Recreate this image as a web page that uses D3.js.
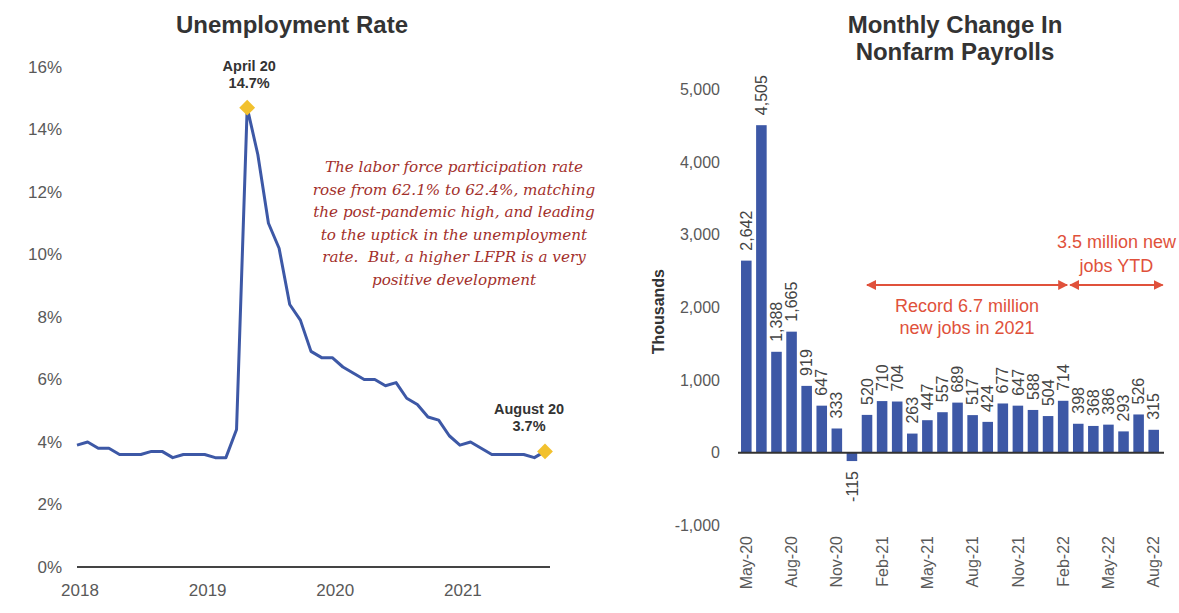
<!DOCTYPE html>
<html>
<head>
<meta charset="utf-8">
<script src="https://cdn.jsdelivr.net/npm/d3@7"></script>
<style>
  html, body { margin: 0; padding: 0; background: #fff; }
  svg { display: block; }
  .sans { font-family: "Liberation Sans", Arial, sans-serif; }
</style>
</head>
<body>
<svg id="chart" width="1179" height="613"></svg>
<script>
// ---- Unemployment rate, monthly (Dec 2018 .. Aug 2022) ----
const rateValues = [3.9, 4.0, 3.8, 3.8, 3.6, 3.6, 3.6, 3.7, 3.7, 3.5, 3.6, 3.6, 3.6, 3.5, 3.5, 4.4,
  14.7, 13.2, 11.0, 10.2, 8.4, 7.9, 6.9, 6.7, 6.7, 6.4, 6.2, 6.0, 6.0, 5.8, 5.9, 5.4, 5.2, 4.8,
  4.7, 4.2, 3.9, 4.0, 3.8, 3.6, 3.6, 3.6, 3.6, 3.5, 3.7];
const rateYearTicks = [0, 12, 24, 36];
const rateYearLabels = ["2018", "2019", "2020", "2021"];
const rateYTicks = [0, 2, 4, 6, 8, 10, 12, 14, 16];
const rateCallouts = [
  { index: 16, lines: ["April 20", "14.7%"], dx: 2 },
  { index: 44, lines: ["August 20", "3.7%"], dx: -16 }
];
const rateNote = ["The labor force participation rate", "rose from 62.1% to 62.4%, matching",
  "the post-pandemic high, and leading", "to the uptick in the unemployment",
  "rate.  But, a higher LFPR is a very", "positive development"];

// ---- Monthly change in nonfarm payrolls (thousands) ----
const payrollMonths = ["May-20", "Jun-20", "Jul-20", "Aug-20", "Sep-20", "Oct-20", "Nov-20", "Dec-20",
  "Jan-21", "Feb-21", "Mar-21", "Apr-21", "May-21", "Jun-21", "Jul-21", "Aug-21", "Sep-21", "Oct-21",
  "Nov-21", "Dec-21", "Jan-22", "Feb-22", "Mar-22", "Apr-22", "May-22", "Jun-22", "Jul-22", "Aug-22"];
const payrollValues = [2642, 4505, 1388, 1665, 919, 647, 333, -115, 520, 710, 704, 263, 447, 557, 689,
  517, 424, 677, 647, 588, 504, 714, 398, 368, 386, 293, 526, 315];
const payrollYTicks = [-1000, 0, 1000, 2000, 3000, 4000, 5000];
const payrollSpans = [
  { from: "Jan-21", to: "Feb-22", lines: ["Record 6.7 million", "new jobs in 2021"], below: true },
  { from: "Feb-22", to: "Aug-22", lines: ["3.5 million new", "jobs YTD"], below: false }
];

const svg = d3.select("#chart");
const blue = "#3d58a6";
const gold = "#f2c12e";
const axisText = "#595959";
const fmt = v => d3.format(",")(v).replace("\u2212", "-");

// ================= Left panel: unemployment line =================
const xL = d3.scaleLinear().domain([0, rateValues.length - 1]).range([77, 545]);
const yL = d3.scaleLinear().domain([0, 16]).range([567, 67]);

const left = svg.append("g");

left.append("text").attr("class", "sans")
  .attr("x", 292).attr("y", 33).attr("text-anchor", "middle")
  .attr("font-size", 24).attr("font-weight", "bold").attr("fill", "#333")
  .text("Unemployment Rate");

left.selectAll(".ytick").data(rateYTicks).join("text")
  .attr("class", "sans")
  .attr("x", 62).attr("y", d => yL(d)).attr("dy", "0.35em")
  .attr("text-anchor", "end").attr("font-size", 17).attr("fill", axisText)
  .text(d => d + "%");

left.append("line")
  .attr("x1", xL(0)).attr("x2", xL(rateValues.length - 1) + 5)
  .attr("y1", yL(0)).attr("y2", yL(0))
  .attr("stroke", "#444").attr("stroke-width", 2);

left.selectAll(".xtick").data(rateYearTicks).join("text")
  .attr("class", "sans")
  .attr("x", d => xL(d) + 3).attr("y", 596)
  .attr("text-anchor", "middle").attr("font-size", 17).attr("fill", axisText)
  .text((d, i) => rateYearLabels[i]);

left.append("path")
  .datum(rateValues)
  .attr("fill", "none").attr("stroke", blue).attr("stroke-width", 3)
  .attr("stroke-linejoin", "round")
  .attr("d", d3.line().x((d, i) => xL(i)).y(d => yL(d)));

const square = d3.symbol().type(d3.symbolSquare).size(125);
left.selectAll(".marker").data(rateCallouts).join("path")
  .attr("d", square)
  .attr("transform", d => `translate(${xL(d.index)},${yL(rateValues[d.index])}) rotate(45)`)
  .attr("fill", gold);

rateCallouts.forEach(c => {
  const t = left.append("text").attr("class", "sans")
    .attr("text-anchor", "middle").attr("font-size", 14.5).attr("font-weight", "bold").attr("fill", "#333");
  c.lines.forEach((ln, i) => {
    t.append("tspan").attr("x", xL(c.index) + c.dx)
      .attr("y", yL(rateValues[c.index]) - 37 + i * 17).text(ln);
  });
});

const note = left.append("text")
  .attr("text-anchor", "middle").attr("font-size", 15.2).attr("font-style", "italic")
  .attr("font-family", "'DejaVu Serif', 'Liberation Serif', serif").attr("fill", "#a3302b")
  .style("white-space", "pre");
rateNote.forEach((ln, i) => {
  note.append("tspan").attr("x", 454).attr("y", 172 + i * 22.5).text(ln);
});

// ================= Right panel: payroll bars =================
const xR = d3.scaleBand().domain(payrollMonths).range([738, 1162]).paddingInner(0.3).paddingOuter(0.2);
const yR = d3.scaleLinear().domain([-1000, 5000]).range([525.4, 89.2]);
const right = svg.append("g");

const title = right.append("text").attr("class", "sans")
  .attr("text-anchor", "middle").attr("font-size", 24).attr("font-weight", "bold").attr("fill", "#333");
["Monthly Change In", "Nonfarm Payrolls"].forEach((ln, i) => {
  title.append("tspan").attr("x", 955).attr("y", 33 + i * 27).text(ln);
});

right.selectAll(".ytick").data(payrollYTicks).join("text")
  .attr("class", "sans")
  .attr("x", 720).attr("y", d => yR(d)).attr("dy", "0.35em")
  .attr("text-anchor", "end").attr("font-size", 16).attr("fill", axisText)
  .text(fmt);

right.append("text").attr("class", "sans")
  .attr("transform", `translate(658,${(yR(2000) + yR(1000)) / 2 - 32}) rotate(-90)`)
  .attr("dy", "0.35em").attr("text-anchor", "middle")
  .attr("font-size", 16).attr("font-weight", "bold").attr("fill", "#333")
  .text("Thousands");

right.selectAll(".bar").data(payrollValues).join("rect")
  .attr("x", (d, i) => xR(payrollMonths[i]))
  .attr("width", xR.bandwidth())
  .attr("y", d => yR(Math.max(0, d)))
  .attr("height", d => Math.abs(yR(d) - yR(0)))
  .attr("fill", blue);

right.append("line")
  .attr("x1", 738).attr("x2", 1164)
  .attr("y1", yR(0)).attr("y2", yR(0))
  .attr("stroke", "#333").attr("stroke-width", 2);

right.selectAll(".vlabel").data(payrollValues).join("text")
  .attr("class", "sans")
  .attr("transform", (d, i) => {
    const cx = xR(payrollMonths[i]) + xR.bandwidth() / 2;
    const y = d >= 0 ? yR(d) - 10 : yR(d) + 10;
    return `translate(${cx},${y}) rotate(-90)`;
  })
  .attr("dy", "0.35em")
  .attr("text-anchor", d => d >= 0 ? "start" : "end")
  .attr("font-size", 16).attr("fill", "#444")
  .text(fmt);

right.selectAll(".mlabel").data(payrollMonths.filter((m, i) => i % 3 === 0)).join("text")
  .attr("class", "sans")
  .attr("transform", d => `translate(${xR(d) + xR.bandwidth() / 2},536) rotate(-90)`)
  .attr("dy", "0.35em").attr("text-anchor", "end")
  .attr("font-size", 16).attr("fill", axisText)
  .text(d => d);

// span arrows
const red = "#e0513b";
const defs = svg.append("defs");
defs.append("marker").attr("id", "arrowhead")
  .attr("viewBox", "0 0 10 10").attr("refX", 9).attr("refY", 5)
  .attr("markerWidth", 5).attr("markerHeight", 5).attr("orient", "auto-start-reverse")
  .append("path").attr("d", "M0,0 L10,5 L0,10 z").attr("fill", red);

const cx = m => xR(m) + xR.bandwidth() / 2;
const arrowY = 285;
payrollSpans.forEach((s, k) => {
  const x1 = k === 0 ? cx(s.from) : cx(s.from) + 7;
  const x2 = k === 0 ? cx(s.to) + 4 : cx(s.to) + 9;
  right.append("line")
    .attr("x1", x1).attr("x2", x2).attr("y1", arrowY).attr("y2", arrowY)
    .attr("stroke", red).attr("stroke-width", 2)
    .attr("marker-start", "url(#arrowhead)").attr("marker-end", "url(#arrowhead)");
  const t = right.append("text").attr("class", "sans")
    .attr("text-anchor", "middle").attr("font-size", 18).attr("fill", red);
  s.lines.forEach((ln, i) => {
    t.append("tspan").attr("x", (x1 + x2) / 2)
      .attr("y", s.below ? arrowY + 27 + i * 22 : arrowY - 37 + i * 24).text(ln);
  });
});
</script>
</body>
</html>
